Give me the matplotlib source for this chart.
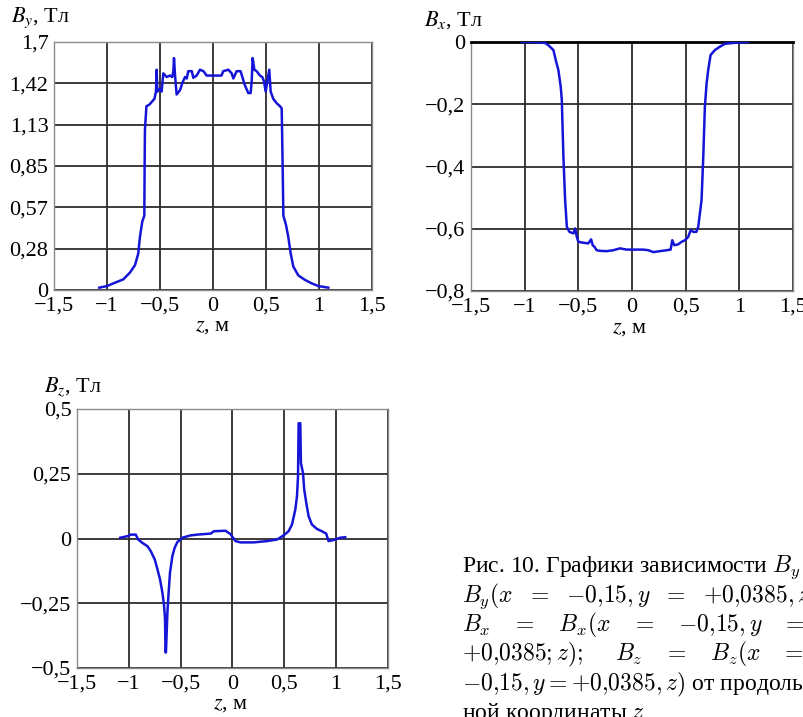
import matplotlib
matplotlib.use('Agg')
import matplotlib.pyplot as plt

plt.rcParams['font.family'] = ['Liberation Serif', 'DejaVu Serif']
plt.rcParams['mathtext.fontset'] = 'stix'
plt.rcParams['axes.unicode_minus'] = True

# ---------------- data ----------------
z_ticks = [-1.5, -1, -0.5, 0, 0.5, 1, 1.5]
z_tick_labels = ['−1,5', '−1', '−0,5', '0', '0,5', '1', '1,5']

by_ticks = [0, 1.7 / 6, 2 * 1.7 / 6, 3 * 1.7 / 6, 4 * 1.7 / 6, 5 * 1.7 / 6, 1.7]
by_tick_labels = ['0', '0,28', '0,57', '0,85', '1,13', '1,42', '1,7']
bx_ticks = [-0.8, -0.6, -0.4, -0.2, 0]
bx_tick_labels = ['−0,8', '−0,6', '−0,4', '−0,2', '0']
bz_ticks = [-0.5, -0.25, 0, 0.25, 0.5]
bz_tick_labels = ['−0,5', '−0,25', '0', '0,25', '0,5']

z_by = [-1.073, -1.0, -0.925, -0.846, -0.783, -0.736, -0.705, -0.689, -0.667, -0.648,
        -0.645, -0.642, -0.628, -0.601, -0.577, -0.553, -0.538, -0.532, -0.525, -0.5,
        -0.485, -0.469, -0.437, -0.406, -0.384, -0.374, -0.368, -0.358, -0.343, -0.311,
        -0.289, -0.264, -0.248, -0.233, -0.2, -0.186, -0.154, -0.123, -0.09, -0.06,
        0.08, 0.097, 0.145, 0.176, 0.192, 0.223, 0.26, 0.277, 0.30, 0.333,
        0.355, 0.365, 0.374, 0.39, 0.412, 0.443, 0.465, 0.481, 0.497, 0.512,
        0.531, 0.544, 0.569, 0.601, 0.632, 0.648, 0.652, 0.658, 0.664, 0.689,
        0.71, 0.733, 0.758, 0.805, 0.868, 0.93, 0.994, 1.088]
by_vals = [0.016, 0.027, 0.05, 0.073, 0.12, 0.17, 0.25, 0.365, 0.47, 0.51,
           0.85, 1.10, 1.26, 1.27, 1.29, 1.31, 1.36, 1.51, 1.36, 1.38,
           1.36, 1.485, 1.46, 1.47, 1.46, 1.50, 1.59, 1.47, 1.34, 1.37,
           1.42, 1.46, 1.45, 1.50, 1.50, 1.455, 1.47, 1.51, 1.50, 1.47,
           1.47, 1.50, 1.51, 1.485, 1.45, 1.50, 1.50, 1.46, 1.405, 1.35,
           1.35, 1.43, 1.59, 1.51, 1.50, 1.47, 1.46, 1.43, 1.36, 1.43,
           1.51, 1.36, 1.31, 1.28, 1.26, 1.245, 1.08, 0.80, 0.51, 0.445,
           0.365, 0.25, 0.16, 0.10, 0.069, 0.046, 0.027, 0.016]

z_bx = [-1.026, -0.92, -0.81, -0.78, -0.732, -0.707, -0.686, -0.664, -0.654, -0.639,
        -0.623, -0.607, -0.583, -0.546, -0.53, -0.514, -0.5, -0.453, -0.407, -0.381,
        -0.366, -0.35, -0.329, -0.298, -0.235, -0.174, -0.112, -0.05, 0.012, 0.105,
        0.152, 0.198, 0.26, 0.323, 0.36, 0.375, 0.394, 0.431, 0.462, 0.493,
        0.524, 0.546, 0.571, 0.60, 0.617, 0.648, 0.664, 0.679, 0.695, 0.71,
        0.732, 0.772, 0.819, 0.865, 0.942, 1.082]
bx_vals = [0.0, 0.0, -0.003, -0.01, -0.026, -0.063, -0.09, -0.144, -0.186, -0.369,
           -0.508, -0.594, -0.61, -0.615, -0.599, -0.626, -0.642, -0.645, -0.647, -0.634,
           -0.653, -0.658, -0.669, -0.671, -0.672, -0.669, -0.663, -0.667, -0.667, -0.667,
           -0.669, -0.675, -0.672, -0.669, -0.667, -0.637, -0.653, -0.65, -0.642, -0.637,
           -0.626, -0.605, -0.61, -0.61, -0.594, -0.508, -0.369, -0.208, -0.133, -0.09,
           -0.042, -0.026, -0.015, -0.006, -0.003, 0.0]

z_bz = [-1.083, -1.013, -0.98, -0.933, -0.91, -0.869, -0.82, -0.788, -0.75, -0.724,
        -0.699, -0.676, -0.66, -0.651, -0.646, -0.642, -0.628, -0.618, -0.603, -0.58,
        -0.558, -0.532, -0.484, -0.404, -0.34, -0.21, -0.18, -0.067, -0.02, 0.029,
        0.077, 0.205, 0.333, 0.43, 0.493, 0.541, 0.574, 0.606, 0.622, 0.632,
        0.638, 0.654, 0.66, 0.68, 0.692, 0.712, 0.734, 0.766, 0.814, 0.862,
        0.904, 0.926, 0.974, 1.038, 1.087]
bz_vals = [0.003, 0.009, 0.015, 0.015, -0.004, -0.017, -0.03, -0.049, -0.081, -0.119,
           -0.158, -0.209, -0.26, -0.31, -0.44, -0.44, -0.286, -0.22, -0.132, -0.068,
           -0.036, -0.014, 0.003, 0.012, 0.015, 0.019, 0.028, 0.03, 0.017, -0.01,
           -0.015, -0.015, -0.01, -0.004, 0.012, 0.028, 0.054, 0.112, 0.163, 0.24,
           0.445, 0.445, 0.291, 0.253, 0.188, 0.137, 0.086, 0.054, 0.037, 0.028,
           0.019, -0.01, -0.006, 0.003, 0.005]

caption_lines = [
    r"Рис. 10. Графики зависимости $B_y\ =$",
    r"$B_y(x\ \ =\ \ {-}0{,}15, y\ \ =\ \ {+}0{,}0385, z);$",
    r"$B_x\ \ \ =\ \ \ B_x(x\ \ \ =\ \ \ {-}0{,}15, y\ \ \ =$",
    r"$+0{,}0385; z);\ \ \ \ B_z\ \ \ =\ \ \ B_z(x\ \ \ =$",
    r"$-0{,}15, y = {+}0{,}0385, z)$ от продольной",
    r"ной координаты $z$",
]

# ---------------- figure ----------------
W, H = 804, 717
fig = plt.figure(figsize=(W / 100, H / 100), dpi=100)
fig.patch.set_facecolor('white')

LINE_COLOR = '#1515d8'
GRID_COLOR = '#2e2a2e'
TICK_FS = 16


def make_axes(l, r, t, b):
    return fig.add_axes([l / W, 1 - b / H, (r - l) / W, (b - t) / H])


def style(ax, yt, ytl, ylim, ylabel, lab_xy, xlab_xy):
    ax.set_xlim(-1.5, 1.5)
    ax.set_ylim(*ylim)
    ax.set_xticks(z_ticks)
    ax.set_xticklabels(z_tick_labels)
    ax.set_yticks(yt)
    ax.set_yticklabels(ytl)
    ax.tick_params(length=0, labelsize=TICK_FS, pad=5)
    ax.tick_params(axis='y', pad=4)
    ax.grid(True, color=GRID_COLOR, lw=1.3)
    ax.set_axisbelow(True)
    for s in ax.spines.values():
        s.set_color('#8a8a8a')
        s.set_linewidth(1.0)
    fig.text(lab_xy[0] / W, 1 - lab_xy[1] / H, ylabel, fontsize=16,
             ha='left', va='center')
    fig.text(xlab_xy[0] / W, 1 - xlab_xy[1] / H, r"$z$, м", fontsize=16,
             ha='center', va='center')


ax1 = make_axes(54, 372, 42, 290)
ax1.plot(z_by, by_vals, color=LINE_COLOR, lw=1.8, zorder=3)
style(ax1, by_ticks, by_tick_labels, (0, 1.7), r"$B_y$, Тл", (11, 18), (213, 326))

ax2 = make_axes(471, 793, 42, 291)
ax2.plot(z_bx, bx_vals, color=LINE_COLOR, lw=1.8, zorder=3)
style(ax2, bx_ticks, bx_tick_labels, (-0.8, 0), r"$B_x$, Тл", (424, 20), (630, 328))
ax2.spines['top'].set_color('black')
ax2.spines['top'].set_linewidth(2)

ax3 = make_axes(77, 388, 409, 668)
ax3.plot(z_bz, bz_vals, color=LINE_COLOR, lw=1.8, zorder=3)
style(ax3, bz_ticks, bz_tick_labels, (-0.5, 0.5), r"$B_z$, Тл", (44, 387), (231, 704))

for i, line in enumerate(caption_lines):
    fig.text(462 / W, 1 - (572 + 29.5 * i) / H, line, fontsize=17,
             ha='left', va='baseline', math_fontfamily='cm')

fig.savefig('out.png', dpi=100, facecolor='white')
